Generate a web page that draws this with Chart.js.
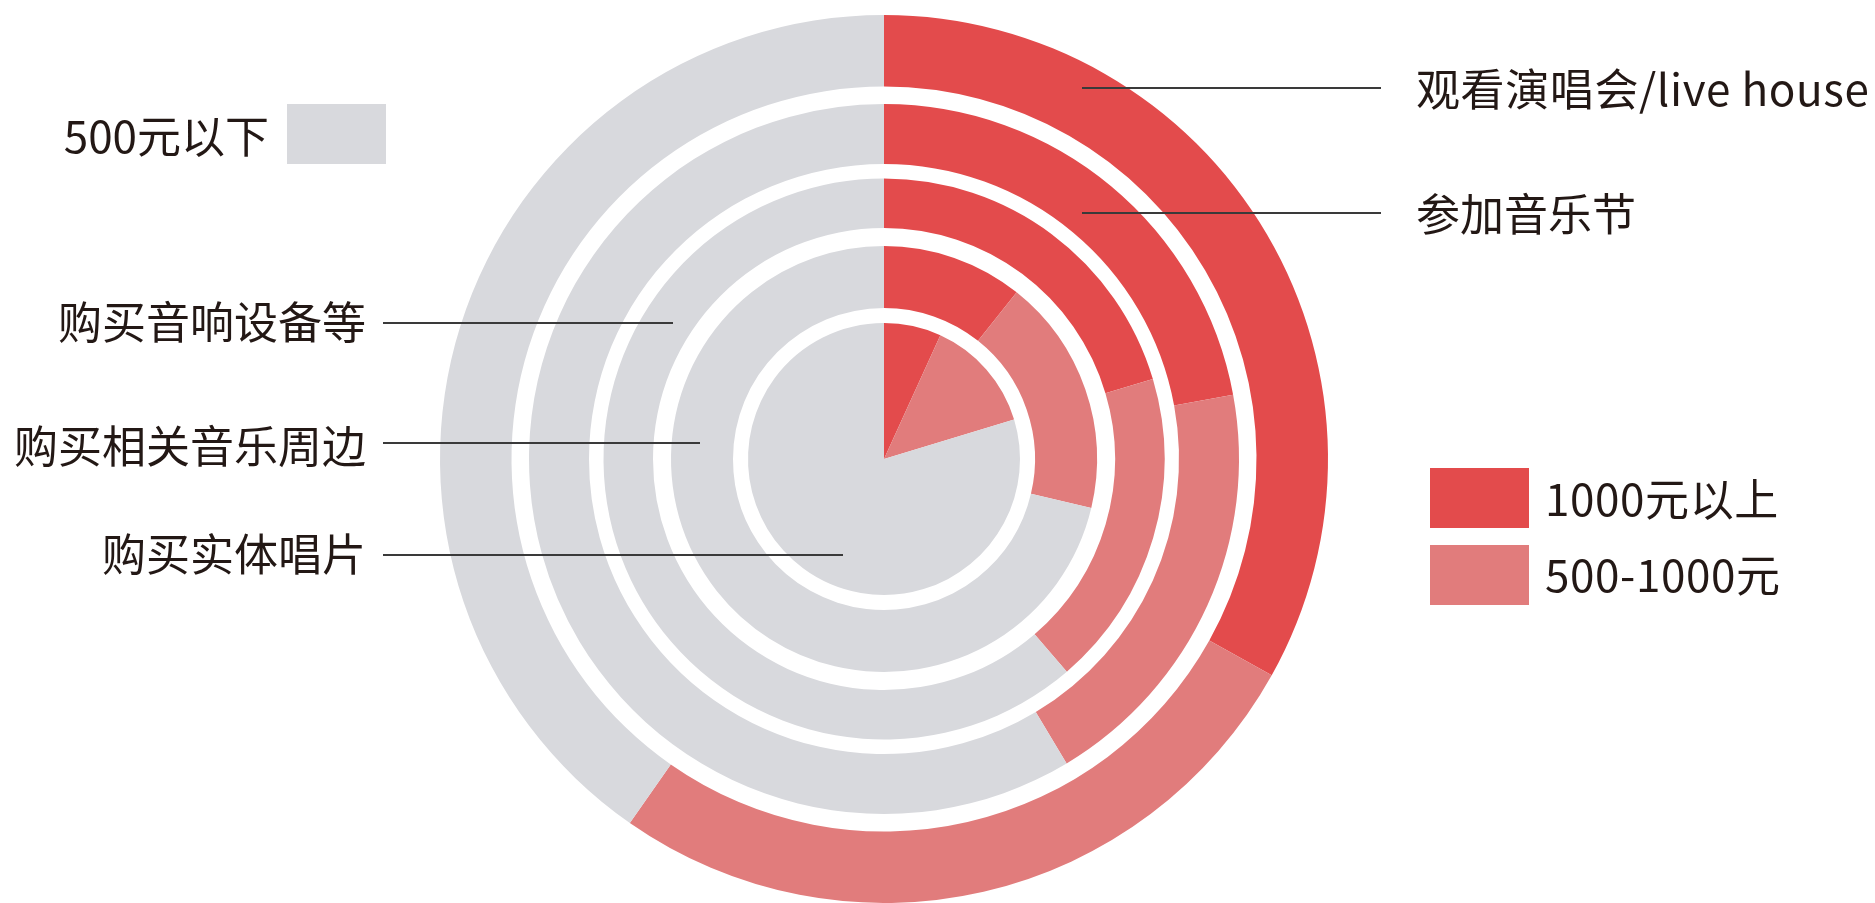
<!DOCTYPE html>
<html lang="zh-CN">
<head>
<meta charset="utf-8">
<title>音乐相关消费</title>
<script src="https://cdn.jsdelivr.net/npm/chart.js@4"></script>
<style>
  html, body { margin: 0; padding: 0; background: #fff; overflow: hidden; }
  #wrap {
    position: relative; width: 1875px; height: 903px;
    font-family: "Noto Sans CJK SC", "Noto Sans", sans-serif; color: #231815;
  }
  #chart { position: absolute; left: 0; top: 0; }
  .label { position: absolute; font-size: 44px; line-height: 44px; white-space: nowrap; }
  .wide { letter-spacing: 0.6px; }
  .line { position: absolute; height: 2px; background: #3a3a3a; }
  .swatch { position: absolute; width: 99px; height: 60px; }
</style>
</head>
<body>
<div id="wrap">
  <canvas id="chart" width="1875" height="903"></canvas>
</div>
<script>
// rings from outside to inside
const categories = ['观看演唱会/live house', '参加音乐节', '购买音响设备等', '购买相关音乐周边', '购买实体唱片'];
const seriesNames = ['1000元以上', '500-1000元', '500元以下'];
const over1000 = [33.1, 22.1, 20.4, 10.7, 6.8];
const from500to1000 = [26.6, 19.3, 18.3, 18.0, 13.5];
const under500 = [40.3, 58.6, 61.3, 71.3, 79.7];

const seriesColors = ['#e34b4c', '#e17c7c', '#d8d9dd'];
// ring thickness and the white gap under each ring (px, radius is 444)
const ringWeights = [71.5, 60, 49.5, 62, 136];
const gapWeights = [17.5, 14.5, 18, 15];

const datasets = [];
categories.forEach((cat, i) => {
    datasets.push({
        label: cat,
        data: [over1000[i], from500to1000[i], under500[i]],
        backgroundColor: seriesColors,
        weight: ringWeights[i]
    });
    if (i < gapWeights.length) {
        datasets.push({
            label: 'gap',
            data: [1],
            backgroundColor: 'rgba(0,0,0,0)',
            weight: gapWeights[i]
        });
    }
});

new Chart(document.getElementById('chart'), {
    type: 'doughnut',
    data: { labels: seriesNames, datasets: datasets },
    options: {
        responsive: false,
        animation: false,
        events: [],
        cutout: 0,
        layout: { padding: { left: 440, right: 547, top: 15, bottom: 0 } },
        elements: { arc: { borderWidth: 0, hoverBorderWidth: 0, offset: 0, hoverOffset: 0 } },
        plugins: { legend: { display: false }, tooltip: { enabled: false } }
    }
});

// callout labels and legend, plain html on top of the canvas
const wrap = document.getElementById('wrap');

function addLabel(text, x, y, alignRight, wide) {
    const el = document.createElement('div');
    el.className = wide ? 'label wide' : 'label';
    el.textContent = text;
    el.style.left = x + 'px';
    el.style.top = (y - 2) + 'px';
    el.style.transform = alignRight ? 'translate(-100%, -50%)' : 'translateY(-50%)';
    wrap.appendChild(el);
}

function addLine(x1, x2, y) {
    const el = document.createElement('div');
    el.className = 'line';
    el.style.left = x1 + 'px';
    el.style.width = (x2 - x1) + 'px';
    el.style.top = (y - 1) + 'px';
    wrap.appendChild(el);
}

function addSwatch(color, x, y) {
    const el = document.createElement('div');
    el.className = 'swatch';
    el.style.background = color;
    el.style.left = x + 'px';
    el.style.top = y + 'px';
    wrap.appendChild(el);
}

// right side labels
addLabel(categories[0], 1416, 89, false, true);
addLine(1082, 1381, 88);
addLabel(categories[1], 1416, 214, false);
addLine(1082, 1381, 213);

// left side labels
addLabel(categories[2], 366, 322, true);
addLine(383, 673, 323);
addLabel(categories[3], 366, 446, true);
addLine(383, 700, 443);
addLabel(categories[4], 366, 554, true);
addLine(383, 843, 555);

// legend
addLabel(seriesNames[2], 269, 136, true);
addSwatch(seriesColors[2], 287, 104);
addSwatch(seriesColors[0], 1430, 468);
addLabel(seriesNames[0], 1545, 499, false, true);
addSwatch(seriesColors[1], 1430, 545);
addLabel(seriesNames[1], 1545, 575, false, true);
</script>
</body>
</html>
